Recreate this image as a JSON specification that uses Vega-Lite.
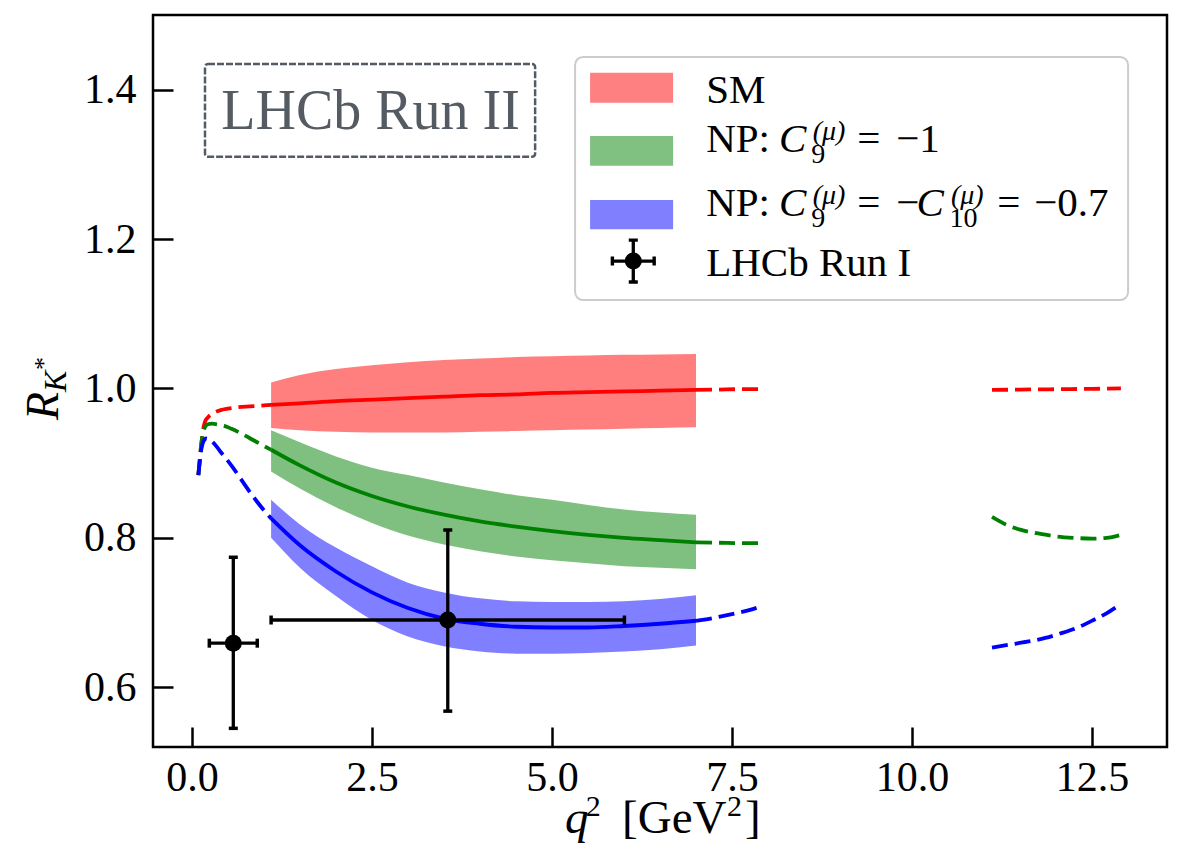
{
"$schema": "https://vega.github.io/schema/vega-lite/v6.json",
"width": 1014, "height": 732,
"autosize": {"type": "none"},
"padding": {"left": 153, "top": 15, "right": 12, "bottom": 109},
"background": "white",
"resolve": {"axis": {"x": "independent", "y": "independent"}},
"config": {
  "view": {"stroke": "black", "strokeWidth": 2.5},
  "axis": {"domain": false, "grid": false, "labelFont": "Liberation Serif", "labelFontSize": 42, "labelColor": "black", "tickColor": "black", "tickWidth": 2.5, "tickSize": -20, "labelOverlap": false, "labelFlush": false},
  "axisX": {"labelPadding": 30},
  "axisY": {"labelPadding": 37}
},
"datasets": {
  "bands": [
    {"s":"SM","q":1.1,"lo":0.947,"hi":1.008},{"s":"SM","q":1.5,"lo":0.944,"hi":1.018},{"s":"SM","q":2.0,"lo":0.942,"hi":1.026},{"s":"SM","q":2.5,"lo":0.941,"hi":1.031},{"s":"SM","q":3.0,"lo":0.941,"hi":1.035},{"s":"SM","q":3.5,"lo":0.941,"hi":1.038},{"s":"SM","q":4.0,"lo":0.942,"hi":1.040},{"s":"SM","q":4.5,"lo":0.943,"hi":1.042},{"s":"SM","q":5.0,"lo":0.944,"hi":1.043},{"s":"SM","q":5.5,"lo":0.945,"hi":1.044},{"s":"SM","q":6.0,"lo":0.946,"hi":1.045},{"s":"SM","q":6.5,"lo":0.947,"hi":1.0455},{"s":"SM","q":7.0,"lo":0.948,"hi":1.046},
    {"s":"C9","q":1.1,"lo":0.889,"hi":0.944},{"s":"C9","q":1.5,"lo":0.866,"hi":0.928},{"s":"C9","q":2.0,"lo":0.841,"hi":0.909},{"s":"C9","q":2.5,"lo":0.820,"hi":0.894},{"s":"C9","q":3.0,"lo":0.803,"hi":0.884},{"s":"C9","q":3.5,"lo":0.791,"hi":0.874},{"s":"C9","q":4.0,"lo":0.782,"hi":0.865},{"s":"C9","q":4.5,"lo":0.775,"hi":0.857},{"s":"C9","q":5.0,"lo":0.770,"hi":0.851},{"s":"C9","q":5.5,"lo":0.766,"hi":0.844},{"s":"C9","q":6.0,"lo":0.762,"hi":0.838},{"s":"C9","q":6.5,"lo":0.760,"hi":0.834},{"s":"C9","q":7.0,"lo":0.758,"hi":0.831},
    {"s":"C9C10","q":1.1,"lo":0.800,"hi":0.851},{"s":"C9C10","q":1.5,"lo":0.760,"hi":0.818},{"s":"C9C10","q":2.0,"lo":0.722,"hi":0.787},{"s":"C9C10","q":2.5,"lo":0.690,"hi":0.762},{"s":"C9C10","q":3.0,"lo":0.668,"hi":0.740},{"s":"C9C10","q":3.5,"lo":0.655,"hi":0.727},{"s":"C9C10","q":4.0,"lo":0.648,"hi":0.719},{"s":"C9C10","q":4.5,"lo":0.645,"hi":0.715},{"s":"C9C10","q":5.0,"lo":0.645,"hi":0.714},{"s":"C9C10","q":5.5,"lo":0.646,"hi":0.714},{"s":"C9C10","q":6.0,"lo":0.648,"hi":0.715},{"s":"C9C10","q":6.5,"lo":0.651,"hi":0.718},{"s":"C9C10","q":7.0,"lo":0.656,"hi":0.723}
  ],
  "central": [
    {"s":"SM","q":1.1,"r":0.978},{"s":"SM","q":1.5,"r":0.980},{"s":"SM","q":2.0,"r":0.983},{"s":"SM","q":2.5,"r":0.985},{"s":"SM","q":3.0,"r":0.987},{"s":"SM","q":3.5,"r":0.989},{"s":"SM","q":4.0,"r":0.991},{"s":"SM","q":4.5,"r":0.992},{"s":"SM","q":5.0,"r":0.994},{"s":"SM","q":5.5,"r":0.995},{"s":"SM","q":6.0,"r":0.996},{"s":"SM","q":6.5,"r":0.997},{"s":"SM","q":7.0,"r":0.998},
    {"s":"C9","q":1.1,"r":0.918},{"s":"C9","q":1.5,"r":0.897},{"s":"C9","q":2.0,"r":0.874},{"s":"C9","q":2.5,"r":0.856},{"s":"C9","q":3.0,"r":0.842},{"s":"C9","q":3.5,"r":0.831},{"s":"C9","q":4.0,"r":0.822},{"s":"C9","q":4.5,"r":0.815},{"s":"C9","q":5.0,"r":0.809},{"s":"C9","q":5.5,"r":0.804},{"s":"C9","q":6.0,"r":0.800},{"s":"C9","q":6.5,"r":0.797},{"s":"C9","q":7.0,"r":0.794},
    {"s":"C9C10","q":1.1,"r":0.826},{"s":"C9C10","q":1.5,"r":0.790},{"s":"C9C10","q":2.0,"r":0.755},{"s":"C9C10","q":2.5,"r":0.727},{"s":"C9C10","q":3.0,"r":0.706},{"s":"C9C10","q":3.5,"r":0.692},{"s":"C9C10","q":4.0,"r":0.685},{"s":"C9C10","q":4.5,"r":0.681},{"s":"C9C10","q":5.0,"r":0.680},{"s":"C9C10","q":5.5,"r":0.680},{"s":"C9C10","q":6.0,"r":0.682},{"s":"C9C10","q":6.5,"r":0.685},{"s":"C9C10","q":7.0,"r":0.689}
  ],
  "dashed": [
    {"s":"SM","seg":"SM-a","q":0.09,"r":0.884},{"s":"SM","seg":"SM-a","q":0.11,"r":0.905},{"s":"SM","seg":"SM-a","q":0.13,"r":0.925},{"s":"SM","seg":"SM-a","q":0.15,"r":0.941},{"s":"SM","seg":"SM-a","q":0.18,"r":0.955},{"s":"SM","seg":"SM-a","q":0.22,"r":0.961},{"s":"SM","seg":"SM-a","q":0.3,"r":0.967},{"s":"SM","seg":"SM-a","q":0.4,"r":0.971},{"s":"SM","seg":"SM-a","q":0.5,"r":0.973},{"s":"SM","seg":"SM-a","q":0.65,"r":0.975},{"s":"SM","seg":"SM-a","q":0.8,"r":0.976},{"s":"SM","seg":"SM-a","q":0.95,"r":0.977},{"s":"SM","seg":"SM-a","q":1.1,"r":0.978},
    {"s":"SM","seg":"SM-b","q":7.0,"r":0.998},{"s":"SM","seg":"SM-b","q":7.3,"r":0.9985},{"s":"SM","seg":"SM-b","q":7.6,"r":0.999},{"s":"SM","seg":"SM-b","q":7.9,"r":0.999},
    {"s":"SM","seg":"SM-c","q":11.11,"r":0.998},{"s":"SM","seg":"SM-c","q":11.5,"r":0.9985},{"s":"SM","seg":"SM-c","q":12.0,"r":0.999},{"s":"SM","seg":"SM-c","q":12.5,"r":0.9995},{"s":"SM","seg":"SM-c","q":12.9,"r":1.0},
    {"s":"C9","seg":"C9-a","q":0.09,"r":0.884},{"s":"C9","seg":"C9-a","q":0.11,"r":0.905},{"s":"C9","seg":"C9-a","q":0.13,"r":0.925},{"s":"C9","seg":"C9-a","q":0.15,"r":0.938},{"s":"C9","seg":"C9-a","q":0.18,"r":0.948},{"s":"C9","seg":"C9-a","q":0.22,"r":0.952},{"s":"C9","seg":"C9-a","q":0.28,"r":0.953},{"s":"C9","seg":"C9-a","q":0.35,"r":0.952},{"s":"C9","seg":"C9-a","q":0.45,"r":0.950},{"s":"C9","seg":"C9-a","q":0.55,"r":0.946},{"s":"C9","seg":"C9-a","q":0.7,"r":0.939},{"s":"C9","seg":"C9-a","q":0.85,"r":0.931},{"s":"C9","seg":"C9-a","q":1.0,"r":0.923},{"s":"C9","seg":"C9-a","q":1.1,"r":0.918},
    {"s":"C9","seg":"C9-b","q":7.0,"r":0.794},{"s":"C9","seg":"C9-b","q":7.3,"r":0.7935},{"s":"C9","seg":"C9-b","q":7.6,"r":0.793},{"s":"C9","seg":"C9-b","q":7.9,"r":0.793},
    {"s":"C9","seg":"C9-c","q":11.11,"r":0.828},{"s":"C9","seg":"C9-c","q":11.3,"r":0.818},{"s":"C9","seg":"C9-c","q":11.5,"r":0.811},{"s":"C9","seg":"C9-c","q":11.75,"r":0.806},{"s":"C9","seg":"C9-c","q":12.0,"r":0.802},{"s":"C9","seg":"C9-c","q":12.25,"r":0.800},{"s":"C9","seg":"C9-c","q":12.5,"r":0.799},{"s":"C9","seg":"C9-c","q":12.7,"r":0.800},{"s":"C9","seg":"C9-c","q":12.9,"r":0.804},
    {"s":"C9C10","seg":"C9C10-a","q":0.09,"r":0.884},{"s":"C9C10","seg":"C9C10-a","q":0.11,"r":0.903},{"s":"C9C10","seg":"C9C10-a","q":0.13,"r":0.918},{"s":"C9C10","seg":"C9C10-a","q":0.16,"r":0.929},{"s":"C9C10","seg":"C9C10-a","q":0.2,"r":0.933},{"s":"C9C10","seg":"C9C10-a","q":0.25,"r":0.931},{"s":"C9C10","seg":"C9C10-a","q":0.32,"r":0.925},{"s":"C9C10","seg":"C9C10-a","q":0.4,"r":0.915},{"s":"C9C10","seg":"C9C10-a","q":0.5,"r":0.903},{"s":"C9C10","seg":"C9C10-a","q":0.6,"r":0.89},{"s":"C9C10","seg":"C9C10-a","q":0.7,"r":0.876},{"s":"C9C10","seg":"C9C10-a","q":0.8,"r":0.862},{"s":"C9C10","seg":"C9C10-a","q":0.9,"r":0.849},{"s":"C9C10","seg":"C9C10-a","q":1.0,"r":0.837},{"s":"C9C10","seg":"C9C10-a","q":1.1,"r":0.826},
    {"s":"C9C10","seg":"C9C10-b","q":7.0,"r":0.689},{"s":"C9C10","seg":"C9C10-b","q":7.2,"r":0.692},{"s":"C9C10","seg":"C9C10-b","q":7.4,"r":0.696},{"s":"C9C10","seg":"C9C10-b","q":7.6,"r":0.700},{"s":"C9C10","seg":"C9C10-b","q":7.8,"r":0.705},{"s":"C9C10","seg":"C9C10-b","q":7.92,"r":0.709},
    {"s":"C9C10","seg":"C9C10-c","q":11.11,"r":0.653},{"s":"C9C10","seg":"C9C10-c","q":11.35,"r":0.657},{"s":"C9C10","seg":"C9C10-c","q":11.6,"r":0.661},{"s":"C9C10","seg":"C9C10-c","q":11.85,"r":0.666},{"s":"C9C10","seg":"C9C10-c","q":12.06,"r":0.672},{"s":"C9C10","seg":"C9C10-c","q":12.3,"r":0.680},{"s":"C9C10","seg":"C9C10-c","q":12.52,"r":0.690},{"s":"C9C10","seg":"C9C10-c","q":12.7,"r":0.699},{"s":"C9C10","seg":"C9C10-c","q":12.86,"r":0.709}
  ],
  "lhcb": [
    {"q":0.575,"lo":0.242,"hi":0.908,"r":0.659,"rlo":0.545,"rhi":0.774},
    {"q":3.553,"lo":1.1,"hi":6.006,"r":0.690,"rlo":0.568,"rhi":0.8105}
  ]
},
"layer": [
  {"data": {"name": "bands"},
   "mark": {"type": "area", "opacity": 0.5, "interpolate": "monotone"},
   "encoding": {
     "x": {"field": "q", "type": "quantitative", "scale": {"domain": [-0.54, 13.54], "nice": false, "zero": false}, "axis": {"title": null, "values": [0, 2.5, 5, 7.5, 10, 12.5], "format": ".1f"}},
     "y": {"field": "lo", "type": "quantitative", "stack": null, "scale": {"domain": [0.52, 1.5], "nice": false, "zero": false}, "axis": {"title": null, "values": [0.6, 0.8, 1.0, 1.2, 1.4], "format": ".1f"}},
     "y2": {"field": "hi"},
     "color": {"field": "s", "type": "nominal", "scale": {"domain": ["SM", "C9", "C9C10"], "range": ["#ff0000", "#008000", "#0000ff"]}, "legend": null}
   }},
  {"data": {"name": "central"},
   "mark": {"type": "line", "strokeWidth": 3.8, "interpolate": "monotone"},
   "encoding": {
     "x": {"field": "q", "type": "quantitative", "axis": null},
     "y": {"field": "r", "type": "quantitative", "axis": null},
     "color": {"field": "s", "type": "nominal", "legend": null}
   }},
  {"data": {"name": "dashed"},
   "mark": {"type": "line", "strokeWidth": 3.8, "strokeDash": [16, 7], "interpolate": "monotone"},
   "encoding": {
     "x": {"field": "q", "type": "quantitative", "axis": null},
     "y": {"field": "r", "type": "quantitative", "axis": null},
     "detail": {"field": "seg", "type": "nominal"},
     "color": {"field": "s", "type": "nominal", "legend": null}
   }},
  {"data": {"name": "lhcb"},
   "mark": {"type": "rule", "color": "black", "strokeWidth": 3.3},
   "encoding": {
     "x": {"field": "lo", "type": "quantitative", "axis": null},
     "x2": {"field": "hi"},
     "y": {"field": "r", "type": "quantitative", "axis": null}
   }},
  {"data": {"name": "lhcb"},
   "mark": {"type": "rule", "color": "black", "strokeWidth": 3.3},
   "encoding": {
     "x": {"field": "q", "type": "quantitative", "axis": null},
     "y": {"field": "rlo", "type": "quantitative", "axis": null},
     "y2": {"field": "rhi"}
   }},
  {"data": {"name": "lhcb"},
   "transform": [{"fold": ["rlo", "rhi"], "as": ["k", "v"]}],
   "mark": {"type": "tick", "orient": "horizontal", "color": "black", "size": 9, "thickness": 3.5, "opacity": 1},
   "encoding": {
     "x": {"field": "q", "type": "quantitative", "axis": null},
     "y": {"field": "v", "type": "quantitative", "axis": null}
   }},
  {"data": {"name": "lhcb"},
   "transform": [{"fold": ["lo", "hi"], "as": ["k", "v"]}],
   "mark": {"type": "tick", "orient": "vertical", "color": "black", "size": 9, "thickness": 3.5, "opacity": 1},
   "encoding": {
     "x": {"field": "v", "type": "quantitative", "axis": null},
     "y": {"field": "r", "type": "quantitative", "axis": null}
   }},
  {"data": {"name": "lhcb"},
   "mark": {"type": "circle", "color": "black", "size": 290, "opacity": 1},
   "encoding": {
     "x": {"field": "q", "type": "quantitative", "axis": null},
     "y": {"field": "r", "type": "quantitative", "axis": null}
   }},
  {"data": {"values": [{}]},
   "mark": {"type": "rect", "fill": "white", "stroke": "#555b62", "strokeWidth": 2.5, "strokeDash": [7, 2], "cornerRadius": 3},
   "encoding": {"x": {"datum": 0.182, "axis": null}, "x2": {"datum": 4.766}, "y": {"datum": 1.4344, "axis": null}, "y2": {"datum": 1.3103}}},
  {"data": {"values": [{}]},
   "mark": {"type": "text", "text": "LHCb Run II", "font": "Liberation Serif", "fontSize": 56, "color": "#555b62", "align": "center", "baseline": "alphabetic"},
   "encoding": {"x": {"datum": 2.481, "axis": null}, "y": {"datum": 1.347, "axis": null}}},
  {"data": {"values": [{}]},
   "mark": {"type": "rect", "fill": "white", "fillOpacity": 0.8, "stroke": "#cccccc", "strokeWidth": 2, "cornerRadius": 8},
   "encoding": {"x": {"datum": 5.321, "axis": null}, "x2": {"datum": 13.0}, "y": {"datum": 1.4438, "axis": null}, "y2": {"datum": 1.1184}}},
  {"data": {"values": [{}]},
   "mark": {"type": "rect", "fill": "#ff8080"},
   "encoding": {"x": {"datum": 5.529, "axis": null}, "x2": {"datum": 6.682}, "y": {"datum": 1.4228, "axis": null}, "y2": {"datum": 1.3826}}},
  {"data": {"values": [{}]},
   "mark": {"type": "rect", "fill": "#80c080"},
   "encoding": {"x": {"datum": 5.529, "axis": null}, "x2": {"datum": 6.682}, "y": {"datum": 1.338, "axis": null}, "y2": {"datum": 1.2982}}},
  {"data": {"values": [{}]},
   "mark": {"type": "rect", "fill": "#8080ff"},
   "encoding": {"x": {"datum": 5.529, "axis": null}, "x2": {"datum": 6.682}, "y": {"datum": 1.2523, "axis": null}, "y2": {"datum": 1.2131}}},
  {"data": {"values": [{}]},
   "mark": {"type": "point", "shape": "M-1,-0.073H1V0.073H-1Z M-0.073,-1H0.073V1H-0.073Z M-1,-0.2H-0.85V0.2H-1Z M0.85,-0.2H1V0.2H0.85Z M-0.2,-1H0.2V-0.85H-0.2Z M-0.2,0.85H0.2V1H-0.2Z", "filled": true, "color": "black", "opacity": 1, "size": 2043},
   "encoding": {"x": {"datum": 6.129, "axis": null}, "y": {"datum": 1.1706, "axis": null}}},
  {"data": {"values": [{}]},
   "mark": {"type": "circle", "color": "black", "opacity": 1, "size": 290},
   "encoding": {"x": {"datum": 6.129, "axis": null}, "y": {"datum": 1.1706, "axis": null}}},
  {"data": {"values": [{}]},
   "mark": {"type": "text", "text": "SM", "font": "Liberation Serif", "fontSize": 41, "color": "black", "align": "left", "baseline": "alphabetic"},
   "encoding": {"x": {"datum": 7.141, "axis": null}, "y": {"datum": 1.3818, "axis": null}}},
  {"data": {"values": [{}]},
   "mark": {"type": "text", "text": "NP:", "font": "Liberation Serif", "fontSize": 41, "color": "black", "align": "left", "baseline": "alphabetic"},
   "encoding": {"x": {"datum": 7.141, "axis": null}, "y": {"datum": 1.317, "axis": null}}},
  {"data": {"values": [{}]},
   "mark": {"type": "text", "text": "C", "font": "Liberation Serif", "fontStyle": "italic", "fontSize": 41, "color": "black", "align": "left", "baseline": "alphabetic"},
   "encoding": {"x": {"datum": 8.154, "axis": null}, "y": {"datum": 1.317, "axis": null}}},
  {"data": {"values": [{}]},
   "mark": {"type": "text", "text": "9", "font": "Liberation Serif", "fontSize": 28, "color": "black", "align": "left", "baseline": "alphabetic"},
   "encoding": {"x": {"datum": 8.6, "axis": null}, "y": {"datum": 1.3014, "axis": null}}},
  {"data": {"values": [{}]},
   "mark": {"type": "text", "text": "(μ)", "font": "Liberation Serif", "fontStyle": "italic", "fontSize": 28, "color": "black", "align": "left", "baseline": "alphabetic"},
   "encoding": {"x": {"datum": 8.62, "axis": null}, "y": {"datum": 1.3326, "axis": null}}},
  {"data": {"values": [{}]},
   "mark": {"type": "text", "text": "=", "font": "Liberation Serif", "fontSize": 41, "color": "black", "align": "left", "baseline": "alphabetic"},
   "encoding": {"x": {"datum": 9.238, "axis": null}, "y": {"datum": 1.317, "axis": null}}},
  {"data": {"values": [{}]},
   "mark": {"type": "text", "text": "−1", "font": "Liberation Serif", "fontSize": 41, "color": "black", "align": "left", "baseline": "alphabetic"},
   "encoding": {"x": {"datum": 9.779, "axis": null}, "y": {"datum": 1.317, "axis": null}}},
  {"data": {"values": [{}]},
   "mark": {"type": "text", "text": "NP:", "font": "Liberation Serif", "fontSize": 41, "color": "black", "align": "left", "baseline": "alphabetic"},
   "encoding": {"x": {"datum": 7.141, "axis": null}, "y": {"datum": 1.2313, "axis": null}}},
  {"data": {"values": [{}]},
   "mark": {"type": "text", "text": "C", "font": "Liberation Serif", "fontStyle": "italic", "fontSize": 41, "color": "black", "align": "left", "baseline": "alphabetic"},
   "encoding": {"x": {"datum": 8.154, "axis": null}, "y": {"datum": 1.2313, "axis": null}}},
  {"data": {"values": [{}]},
   "mark": {"type": "text", "text": "9", "font": "Liberation Serif", "fontSize": 28, "color": "black", "align": "left", "baseline": "alphabetic"},
   "encoding": {"x": {"datum": 8.6, "axis": null}, "y": {"datum": 1.2158, "axis": null}}},
  {"data": {"values": [{}]},
   "mark": {"type": "text", "text": "(μ)", "font": "Liberation Serif", "fontStyle": "italic", "fontSize": 28, "color": "black", "align": "left", "baseline": "alphabetic"},
   "encoding": {"x": {"datum": 8.62, "axis": null}, "y": {"datum": 1.247, "axis": null}}},
  {"data": {"values": [{}]},
   "mark": {"type": "text", "text": "=", "font": "Liberation Serif", "fontSize": 41, "color": "black", "align": "left", "baseline": "alphabetic"},
   "encoding": {"x": {"datum": 9.238, "axis": null}, "y": {"datum": 1.2313, "axis": null}}},
  {"data": {"values": [{}]},
   "mark": {"type": "text", "text": "−", "font": "Liberation Serif", "fontSize": 41, "color": "black", "align": "left", "baseline": "alphabetic"},
   "encoding": {"x": {"datum": 9.779, "axis": null}, "y": {"datum": 1.2313, "axis": null}}},
  {"data": {"values": [{}]},
   "mark": {"type": "text", "text": "C", "font": "Liberation Serif", "fontStyle": "italic", "fontSize": 41, "color": "black", "align": "left", "baseline": "alphabetic"},
   "encoding": {"x": {"datum": 10.06, "axis": null}, "y": {"datum": 1.2313, "axis": null}}},
  {"data": {"values": [{}]},
   "mark": {"type": "text", "text": "10", "font": "Liberation Serif", "fontSize": 28, "color": "black", "align": "left", "baseline": "alphabetic"},
   "encoding": {"x": {"datum": 10.52, "axis": null}, "y": {"datum": 1.2158, "axis": null}}},
  {"data": {"values": [{}]},
   "mark": {"type": "text", "text": "(μ)", "font": "Liberation Serif", "fontStyle": "italic", "fontSize": 28, "color": "black", "align": "left", "baseline": "alphabetic"},
   "encoding": {"x": {"datum": 10.54, "axis": null}, "y": {"datum": 1.247, "axis": null}}},
  {"data": {"values": [{}]},
   "mark": {"type": "text", "text": "=", "font": "Liberation Serif", "fontSize": 41, "color": "black", "align": "left", "baseline": "alphabetic"},
   "encoding": {"x": {"datum": 11.182, "axis": null}, "y": {"datum": 1.2313, "axis": null}}},
  {"data": {"values": [{}]},
   "mark": {"type": "text", "text": "−0.7", "font": "Liberation Serif", "fontSize": 41, "color": "black", "align": "left", "baseline": "alphabetic"},
   "encoding": {"x": {"datum": 11.696, "axis": null}, "y": {"datum": 1.2313, "axis": null}}},
  {"data": {"values": [{}]},
   "mark": {"type": "text", "text": "LHCb Run I", "font": "Liberation Serif", "fontSize": 41, "color": "black", "align": "left", "baseline": "alphabetic"},
   "encoding": {"x": {"datum": 7.141, "axis": null}, "y": {"datum": 1.151, "axis": null}}},
  {"data": {"values": [{}]},
   "mark": {"type": "text", "text": "q", "font": "Liberation Serif", "fontStyle": "italic", "fontSize": 47, "color": "black", "align": "left", "baseline": "alphabetic"},
   "encoding": {"x": {"datum": 5.182, "axis": null}, "y": {"datum": 0.4048, "axis": null}}},
  {"data": {"values": [{}]},
   "mark": {"type": "text", "text": "2", "font": "Liberation Serif", "fontSize": 30, "color": "black", "align": "left", "baseline": "alphabetic"},
   "encoding": {"x": {"datum": 5.47, "axis": null}, "y": {"datum": 0.4275, "axis": null}}},
  {"data": {"values": [{}]},
   "mark": {"type": "text", "text": "[GeV", "font": "Liberation Serif", "fontSize": 47, "color": "black", "align": "left", "baseline": "alphabetic"},
   "encoding": {"x": {"datum": 5.974, "axis": null}, "y": {"datum": 0.4048, "axis": null}}},
  {"data": {"values": [{}]},
   "mark": {"type": "text", "text": "2", "font": "Liberation Serif", "fontSize": 30, "color": "black", "align": "left", "baseline": "alphabetic"},
   "encoding": {"x": {"datum": 7.43, "axis": null}, "y": {"datum": 0.4275, "axis": null}}},
  {"data": {"values": [{}]},
   "mark": {"type": "text", "text": "]", "font": "Liberation Serif", "fontSize": 47, "color": "black", "align": "left", "baseline": "alphabetic"},
   "encoding": {"x": {"datum": 7.68, "axis": null}, "y": {"datum": 0.4048, "axis": null}}},
  {"data": {"values": [{}]},
   "mark": {"type": "text", "text": "R", "font": "Liberation Serif", "fontStyle": "italic", "fontSize": 46, "color": "black", "align": "left", "baseline": "alphabetic", "angle": 270},
   "encoding": {"x": {"datum": -1.859, "axis": null}, "y": {"datum": 0.9578, "axis": null}}},
  {"data": {"values": [{}]},
   "mark": {"type": "text", "text": "K", "font": "Liberation Serif", "fontStyle": "italic", "fontSize": 32, "color": "black", "align": "left", "baseline": "alphabetic", "angle": 270},
   "encoding": {"x": {"datum": -1.748, "axis": null}, "y": {"datum": 0.9953, "axis": null}}},
  {"data": {"values": [{}]},
   "mark": {"type": "text", "text": "*", "font": "Liberation Serif", "fontSize": 26, "color": "black", "align": "left", "baseline": "alphabetic", "angle": 270},
   "encoding": {"x": {"datum": -1.943, "axis": null}, "y": {"datum": 1.0247, "axis": null}}}
]
}
